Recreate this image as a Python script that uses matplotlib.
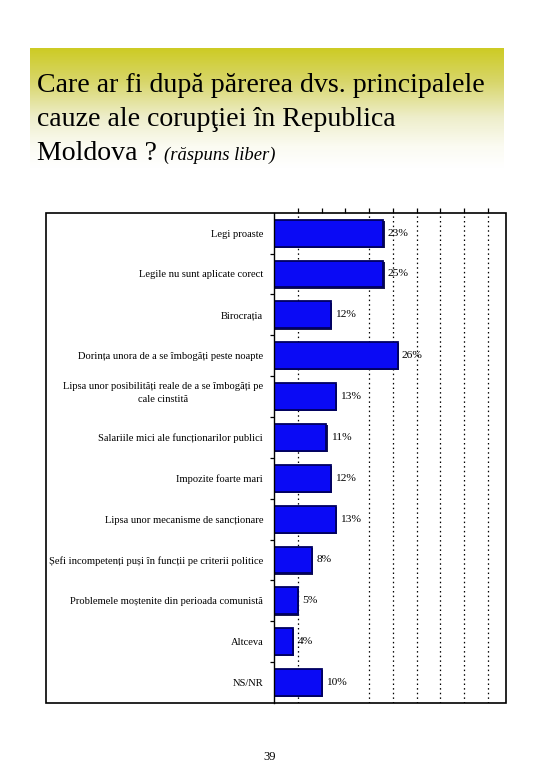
import numpy as np
import matplotlib
matplotlib.use("Agg")
import matplotlib.pyplot as plt
import matplotlib.transforms as mtransforms
from matplotlib.patches import Rectangle
from matplotlib.colors import LinearSegmentedColormap

categories = [
    "Legi proaste",
    "Legile nu sunt aplicate corect",
    "Birocrația",
    "Dorința unora de a se îmbogăți peste noapte",
    "Lipsa unor posibilități reale de a se îmbogăți pe\ncale cinstită",
    "Salariile mici ale funcționarilor publici",
    "Impozite foarte mari",
    "Lipsa unor mecanisme de sancționare",
    "Șefi incompetenți puși în funcții pe criterii politice",
    "Problemele moștenite din perioada comunistă",
    "Altceva",
    "NS/NR",
]
values = [23, 23, 12, 26, 13, 11, 12, 13, 8, 5, 4, 10]
value_labels = ["23%", "25%", "12%", "26%", "13%", "11%", "12%", "13%", "8%", "5%", "4%", "10%"]
grid_ticks = [5, 10, 15, 20, 25, 30, 35, 40, 45]
visible_grid = [5, 20, 25, 30, 35, 40, 45]

W, H = 540, 780
fig = plt.figure(figsize=(W / 100, H / 100), dpi=100)
fig.patch.set_facecolor("white")

def fx(px):
    return px / W

def fy(py):
    return 1 - py / H

# Header gradient box
hx0, hx1, hy0, hy1 = 30, 504, 48, 168
hax = fig.add_axes([fx(hx0), fy(hy1), fx(hx1) - fx(hx0), fy(hy0) - fy(hy1)])
hax.set_axis_off()
cmap = LinearSegmentedColormap.from_list(
    "hdr", [(0.0, "#cdcb24"), (0.28, "#d8d66a"), (0.58, "#eeeecb"), (0.82, "#fbfbf2"), (1.0, "#ffffff")])
grad = np.linspace(0, 1, 256).reshape(-1, 1)
hax.imshow(grad, aspect="auto", cmap=cmap, extent=[0, 1, 1, 0])
hax.set_xlim(0, 1)
hax.set_ylim(1, 0)

serif = ["Liberation Serif", "DejaVu Serif"]
fig.text(fx(37), fy(92), "Care ar fi după părerea dvs. principalele", fontsize=20.1,
         family=serif, va="baseline", ha="left")
fig.text(fx(37), fy(126), "cauze ale corupţiei în Republica", fontsize=20.1,
         family=serif, va="baseline", ha="left")
t3 = fig.text(fx(37), fy(160), "Moldova ? ", fontsize=20.1, family=serif, va="baseline", ha="left")
fig.canvas.draw()
bb = t3.get_window_extent()
fig.text(bb.x1 / W, fy(160), "(răspuns liber)", fontsize=13.4, family=serif,
         style="italic", va="baseline", ha="left")

# Chart area
ax_l, ax_r, ax_t, ax_b = 274.3, 505.7, 212.7, 703.0
ax = fig.add_axes([fx(ax_l), fy(ax_b), fx(ax_r) - fx(ax_l), fy(ax_t) - fy(ax_b)])
ppp = 4.742
ax.set_xlim(0, (ax_r - ax_l) / ppp)
ax.set_ylim(len(categories) - 0.5, -0.5)

y = np.arange(len(categories))
for g in visible_grid:
    ax.axvline(g, color="black", linewidth=0.9, linestyle=(0, (1.2, 2.5)), zorder=0)

# shadow
ax.barh(y + 0.03, values, height=0.66, left=0.25, color="#1a1a50", zorder=1)
ax.barh(y, values, height=0.66, color="#0a0af5", edgecolor="#000060", linewidth=1.3, zorder=2)

for yi, v, lab in zip(y, values, value_labels):
    ax.annotate(lab, xy=(v, yi), xytext=(3.0, 0), textcoords="offset points",
                va="center", ha="left", fontsize=8.2, family=serif, color="black")

ax.set_yticks(y)
ax.set_yticklabels(categories, fontsize=7.6, family=serif, multialignment="center", linespacing=1.6)
ax.tick_params(axis="y", which="major", length=0, pad=8)
ax.set_yticks(np.arange(0.5, len(categories) - 0.5, 1), minor=True)
ax.tick_params(axis="y", which="minor", length=3, direction="out", width=0.9)

# shift the two-line label up a bit, as in the reference
lbl = ax.get_yticklabels()[4]
lbl.set_transform(lbl.get_transform() + mtransforms.ScaledTranslation(0, 5 / 72, fig.dpi_scale_trans))

ax.xaxis.tick_top()
ax.set_xticks(grid_ticks)
ax.set_xticklabels([])
ax.tick_params(axis="x", which="major", length=3.5, direction="out", width=0.9)

for s in ["top", "right", "bottom"]:
    ax.spines[s].set_visible(False)
ax.spines["left"].set_linewidth(1.0)

# Outer frame
frame = Rectangle((fx(45.7), fy(ax_b)), fx(ax_r) - fx(45.7), fy(ax_t) - fy(ax_b),
                  transform=fig.transFigure, fill=False, edgecolor="black", linewidth=1.2, zorder=10)
fig.patches.append(frame)

fig.text(fx(270), fy(757), "39", fontsize=9, family=serif, ha="center", va="center")

fig.savefig("out.png", dpi=100, facecolor="white")
